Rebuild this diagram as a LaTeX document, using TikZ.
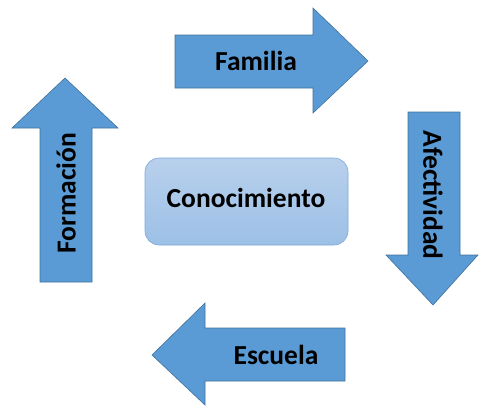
\documentclass[tikz,border=0pt]{standalone}
\usepackage{fontspec}
\setmainfont{Carlito}
\definecolor{azul}{HTML}{5B9BD5}
\definecolor{borde}{HTML}{41719C}
\definecolor{claro}{HTML}{B8D0EC}
\definecolor{claro2}{HTML}{9CC0E6}
\definecolor{bordeclaro}{HTML}{7EA8DA}
\tikzset{
  flecha/.style={fill=azul, draw=borde, line width=0.6pt, line join=miter},
  etiqueta/.style={font=\fontsize{27.5}{30}\selectfont\bfseries, inner sep=0pt}
}
\begin{document}
\begin{tikzpicture}[x=1pt, y=-1pt]
    \useasboundingbox (0,0) rectangle (479,408);
    % flechas del ciclo
    \draw [flecha] (175,35)--(313,35)--(313,8)--(368,61)--(313,113)--(313,88)--(175,88)--cycle;
    \draw [flecha] (408,112)--(460,112)--(460,255)--(478,255)--(433,305)--(386,255)--(408,255)--cycle;
    \draw [flecha] (345,328)--(205,328)--(205,303)--(152,355)--(205,405)--(205,381)--(345,381)--cycle;
    \draw [flecha] (40,282)--(40,128)--(12,128)--(65,78)--(118,128)--(92,128)--(92,282)--cycle;
    % centro
    \draw [draw=bordeclaro, line width=0.6pt, rounded corners=14pt, top color=claro, bottom color=claro2]
        (145,158) rectangle (348,245);
    % textos
    \node [etiqueta] (familia) at (256,61) {Familia};
    \node [etiqueta, rotate=-90] (afectividad) at (433,195) {Afectividad};
    \node [etiqueta] (escuela) at (276,355) {Escuela};
    \node [etiqueta, rotate=90] (formacion) at (66,193) {Formación};
    \node [etiqueta] (conocimiento) at (246,198) {Conocimiento};
\end{tikzpicture}
\end{document}
